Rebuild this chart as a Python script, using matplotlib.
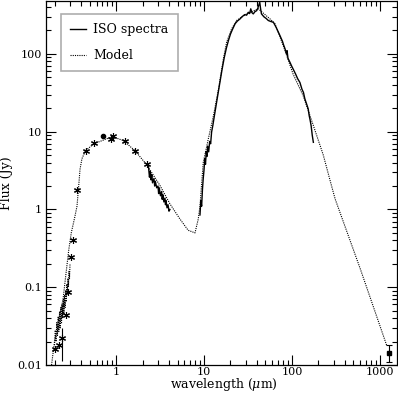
import numpy as np
import matplotlib
matplotlib.use("Agg")
import matplotlib.pyplot as plt
from matplotlib.ticker import LogLocator, FixedLocator, FixedFormatter, NullFormatter

plt.rcParams['font.family'] = ['DejaVu Serif']
plt.rcParams['mathtext.fontset'] = 'dejavuserif'

# Model SED (dotted)
model_wl = [0.185, 0.20, 0.22, 0.25, 0.27, 0.29, 0.31, 0.34, 0.36, 0.375, 0.39, 0.41,
            0.45, 0.56, 0.70, 0.87, 1.0, 1.21, 1.64, 2.23, 3.16, 4.1, 5.3, 6.6, 7.9,
            8.6, 9.0, 9.8, 11.2, 12.8, 14.6, 16.6, 18.1, 20.6, 23.5, 30.5, 41.4, 56,
            64, 79.5, 103, 134, 175, 227, 270, 309, 600, 1190]
model_flux = [0.01, 0.02, 0.035, 0.07, 0.15, 0.3, 0.5, 0.8, 1.1, 1.9, 3.3, 4.5,
              5.7, 7.0, 7.7, 8.5, 8.3, 7.7, 5.7, 3.76, 2.03, 1.18, 0.76, 0.54, 0.5,
              0.75, 1.1, 4.0, 8.1, 16, 35, 86, 142, 210, 269, 327, 380, 283,
              245, 128, 55, 29, 12, 5.0, 2.4, 1.37, 0.17, 0.018]

# UV spectrum (dotted, noisy)
uv_wl = [0.200, 0.204, 0.208, 0.212, 0.216, 0.220, 0.224, 0.228, 0.232, 0.236, 0.240,
         0.244, 0.248, 0.252, 0.256, 0.260, 0.264, 0.268, 0.272, 0.276, 0.280, 0.284,
         0.288, 0.292, 0.296, 0.300]
uv_flux = [0.018, 0.028, 0.02, 0.035, 0.024, 0.042, 0.027, 0.048, 0.03, 0.055, 0.034,
           0.06, 0.04, 0.07, 0.045, 0.08, 0.055, 0.09, 0.065, 0.11, 0.08, 0.13, 0.1,
           0.16, 0.13, 0.2]

# ISO spectra (solid)
iso1_wl = [2.33, 2.40, 2.45, 2.5, 2.55, 2.6, 2.7, 2.75, 2.8, 2.9, 3.0, 3.05, 3.1, 3.2,
           3.3, 3.35, 3.4, 3.5, 3.6, 3.65, 3.7, 3.8, 3.9, 4.0, 4.1]
iso1_flux = [3.7, 2.6, 3.1, 2.4, 2.8, 2.2, 2.5, 2.0, 2.3, 1.9, 2.0, 1.6, 1.9, 1.5, 1.7,
             1.35, 1.55, 1.25, 1.4, 1.15, 1.3, 1.05, 1.15, 0.95, 1.0]

iso2_wl = [9.0, 9.2, 9.4, 9.6, 9.8, 10.0, 10.2, 10.4, 10.6, 10.8, 11.0, 11.3, 11.6, 11.9,
           12.2, 12.6, 13.0, 14.0, 15.0, 16.0, 17.0, 18.0, 19.0, 20.0, 21.0, 22.6, 24.0,
           25.6, 27.0, 29.0, 30.5, 31.9, 33.0, 34.0, 35.0, 36.3, 38.0, 39.7, 41.0, 43.0,
           44.0, 45.0, 48.0, 51.0, 53.8, 57.0, 61.5, 66.0, 73.0, 78.0, 80.0, 83.0, 86.8,
           88.0, 90.0, 94.8, 99.0, 103, 110, 116, 123, 130, 135, 140, 146, 150, 153, 157,
           160, 165, 170, 175]
iso2_flux = [0.85, 1.3, 1.1, 1.8, 2.5, 3.2, 4.5, 3.8, 5.5, 4.8, 6.5, 5.5, 7.5, 7.0,
             9.9, 12, 15, 25, 40, 62, 90, 120, 150, 180, 205, 245, 265,
             281, 300, 320, 315, 343, 330, 380, 340, 327, 350, 360, 390, 463,
             380, 327, 300, 285, 269, 262, 255, 220, 172, 145, 132, 118, 100,
             110, 88, 78, 70, 64, 55, 48, 43, 35, 32, 26.5, 23, 21, 19.6, 16,
             14.5, 12, 9, 7.3]

# photometry (asterisks)
phot_wl = [0.203, 0.225, 0.245, 0.268, 0.287, 0.306, 0.327, 0.363, 0.453, 0.56,
           0.877, 0.917, 1.27, 1.64, 2.23]
phot_flux = [0.016, 0.018, 0.022, 0.044, 0.087, 0.245, 0.40, 1.79, 5.6, 7.2,
             8.1, 8.9, 7.7, 5.7, 3.87]
blob_wl = [0.706]
blob_flux = [8.9]

# mm point with error bar
mm_wl = [1277]
mm_flux = [0.0144]
mm_err_lo = [0.0035]
mm_err_hi = [0.0039]

fig = plt.figure(figsize=(3.98, 3.93), dpi=100)
ax = fig.add_axes([46 / 398, 28 / 393, 350.7 / 398, 364 / 393])

ax.plot(model_wl, model_flux, color='black', linestyle=(0, (1, 1)), linewidth=0.8,
        label='Model')
ax.plot(uv_wl, uv_flux, color='black', linestyle=(0, (1, 1)), linewidth=0.8)
ax.plot(iso1_wl, iso1_flux, color='black', linewidth=1.0, label='ISO spectra')
ax.plot(iso2_wl, iso2_flux, color='black', linewidth=1.0)
ax.plot(phot_wl, phot_flux, linestyle='none', marker=(6, 2, 0), markersize=5,
        color='black', markeredgewidth=0.8)
ax.plot(blob_wl, blob_flux, linestyle='none', marker='o', markersize=3, color='black')
ax.vlines([0.245], 0.0114, 0.03, color='black', linewidth=0.8)
ax.errorbar(mm_wl, mm_flux, yerr=[mm_err_lo, mm_err_hi], fmt='s', markersize=3,
            color='black', ecolor='black', elinewidth=0.8, capsize=2.5, capthick=0.8)

ax.set_xscale('log')
ax.set_yscale('log')
ax.set_xlim(0.16, 1550)
ax.set_ylim(0.01, 479)

ax.xaxis.set_major_locator(FixedLocator([1, 10, 100, 1000]))
ax.xaxis.set_major_formatter(FixedFormatter(['1', '10', '100', '1000']))
ax.xaxis.set_minor_locator(LogLocator(base=10, subs=np.arange(2, 10)))
ax.xaxis.set_minor_formatter(NullFormatter())
ax.yaxis.set_major_locator(FixedLocator([0.01, 0.1, 1, 10, 100]))
ax.yaxis.set_major_formatter(FixedFormatter(['0.01', '0.1', '1', '10', '100']))
ax.yaxis.set_minor_locator(LogLocator(base=10, subs=np.arange(2, 10)))
ax.yaxis.set_minor_formatter(NullFormatter())

ax.tick_params(which='both', direction='in', top=True, right=True, labelsize=8,
               width=0.8)
ax.tick_params(axis='x', which='major', pad=1.5)
ax.tick_params(axis='y', which='major', pad=3)
ax.tick_params(which='major', length=7)
ax.tick_params(which='minor', length=3.5)
for s in ax.spines.values():
    s.set_linewidth(0.9)

ax.set_xlabel(r'wavelength ($\mu$m)', fontsize=9)
ax.set_ylabel('Flux (Jy)', fontsize=9)
ax.xaxis.set_label_coords(0.506, -0.054)
ax.yaxis.set_label_coords(-0.112, 0.5)
ax.xaxis.label.set_va('center')
ax.yaxis.label.set_va('center')

handles, labels = ax.get_legend_handles_labels()
order = [1, 0]
leg = ax.legend([handles[i] for i in order], [labels[i] for i in order],
                loc='upper left', bbox_to_anchor=(0.042, 0.964), borderaxespad=0,
                fancybox=False, fontsize=9, handlelength=1.3, handletextpad=0.55,
                borderpad=0.75, labelspacing=1.0)
leg.get_frame().set_edgecolor('#999999')
leg.get_frame().set_linewidth(1.2)

fig.savefig('out.png', dpi=100)
